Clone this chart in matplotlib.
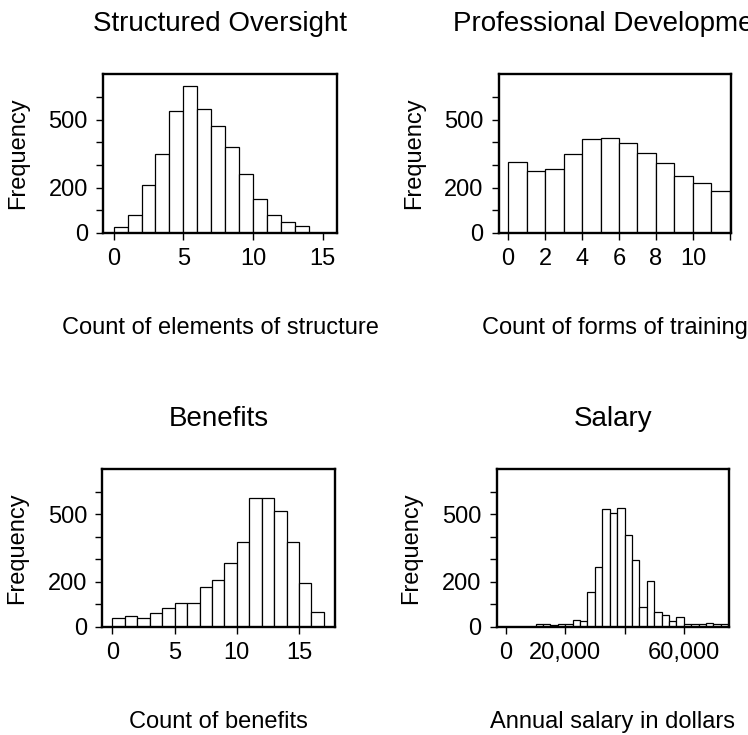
"""
Four frequency histograms: oversight, training, benefits and salary.
"""

import numpy as np
import matplotlib.pyplot as plt

plt.rcParams["font.family"] = ["Liberation Sans", "DejaVu Sans"]


# ── Frequencies ──

structure_edges = np.arange(0, 15)
structure_freq = [26, 79, 210, 347, 538, 649, 546, 472, 379, 260, 150, 79, 47, 29]

training_edges = np.arange(0, 13)
training_freq = [312, 274, 282, 347, 415, 419, 399, 354, 309, 250, 221, 184]

benefits_edges = np.arange(0, 18)
benefits_freq = [40, 50, 40, 62, 86, 104, 107, 175, 206, 282, 375, 570, 570, 513,
                 375, 193, 68]

salary_edges = np.arange(0, 75001, 2500)
salary_freq = [0, 0, 0, 0, 15, 15, 9, 13, 13, 33, 27, 156, 264, 524, 504, 528,
               408, 295, 90, 205, 67, 55, 25, 46, 12, 12, 12, 19, 13, 13]

freq_ticks = [0, 100, 200, 300, 400, 500, 600]
freq_labels = ["0", "", "200", "", "", "500", ""]


def plot_hist(ax, edges, freq, title, xlabel, xlim, xticks, xticklabels):
    ax.hist(edges[:-1], bins=edges, weights=freq,
            color="white", edgecolor="black", linewidth=0.9)

    ax.set_xlim(*xlim)
    ax.set_ylim(0, 700)
    ax.set_xticks(xticks, xticklabels)
    ax.set_yticks(freq_ticks, freq_labels)

    ax.set_title(title, fontsize=20, pad=31)
    ax.set_xlabel(xlabel, fontsize=17, labelpad=34)
    ax.set_ylabel("Frequency", fontsize=17, labelpad=14)
    ax.tick_params(direction="out", length=5, width=1, labelsize=17, pad=6)
    for spine in ax.spines.values():
        spine.set_linewidth(1.7)


fig = plt.figure(figsize=(7.48, 7.35), dpi=100)

ax1 = fig.add_axes([0.138, 0.683, 0.313, 0.216])
ax2 = fig.add_axes([0.667, 0.683, 0.310, 0.216])
ax3 = fig.add_axes([0.137, 0.147, 0.311, 0.215])
ax4 = fig.add_axes([0.664, 0.147, 0.310, 0.215])

plot_hist(ax1, structure_edges, structure_freq, "Structured Oversight",
          "Count of elements of structure", (-0.75, 16.05),
          [0, 5, 10, 15], ["0", "5", "10", "15"])
plot_hist(ax2, training_edges, training_freq, "Professional Development",
          "Count of forms of training", (-0.5, 12.05),
          [0, 2, 4, 6, 8, 10, 12], ["0", "2", "4", "6", "8", "10", ""])
plot_hist(ax3, benefits_edges, benefits_freq, "Benefits",
          "Count of benefits", (-0.8, 17.9),
          [0, 5, 10, 15], ["0", "5", "10", "15"])
plot_hist(ax4, salary_edges, salary_freq, "Salary",
          "Annual salary in dollars", (-3150, 75100),
          [0, 20000, 40000, 60000], ["0", "20,000", "", "60,000"])

fig.savefig("out.png", dpi=100)
